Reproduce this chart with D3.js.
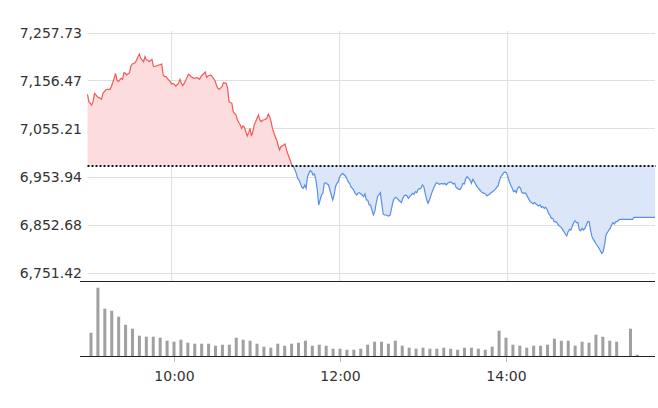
<!DOCTYPE html>
<html>
<head>
<meta charset="utf-8">
<script src="https://cdn.jsdelivr.net/npm/d3@7"></script>
<style>
  html, body { margin: 0; padding: 0; background: #fff; }
  svg { display: block; font-family: "DejaVu Sans", sans-serif; }
</style>
</head>
<body>
<svg id="chart" width="658" height="408"></svg>
<script>
// ---- data ----
const prevClose = 6978.2;
const yTickValues = [6751.42, 6852.68, 6953.94, 7055.21, 7156.47, 7257.73];
const xTickLabels = ["10:00", "12:00", "14:00"];

// minutes after 09:00
const priceMinutes = [
  0,1,3,4,5,6,7,9,10,11,12,13,14,16,17,19,20,21,22,24,25,26,27,28,30,31,32,34,35,36,37,38,40,41,42,43,44,46,47,48,49,51,53,54,55,56,57,59,60,
  61,62,63,65,66,67,68,69,70,72,73,74,76,78,79,80,81,82,84,85,86,88,89,91,92,93,94,96,97,99,100,101,103,104,105,106,107,109,110,111,112,113,114,115,116,117,118,119,121,122,
  123,124,125,126,128,129,130,131,132,134,135,136,137,138,140,141,142,146,147,149,150,151,153,154,155,156,157,158,159,160,161,162,163,164,165,166,167,168,169,170,171,172,173,175,176,177,178,179,180,
  181,182,184,185,186,187,188,190,191,192,193,194,196,197,198,199,200,201,202,203,204,205,206,207,209,210,211,212,213,215,216,217,218,219,220,221,222,224,225,226,227,228,229,231,232,233,234,235,236,238,239,240,
  241,242,243,244,246,247,248,249,250,251,253,254,255,256,257,259,260,261,262,263,265,266,267,268,269,270,271,272,273,274,275,276,278,279,280,
  281,282,284,285,286,287,288,290,291,292,293,294,295,296,297,298,299,300,301,302,303,304,305,306,307,308,309,310,311,312,313,315,316,317,318,319,321,322,323,324,325,326,327,328,329,330,
  331,332,333,334,335,336,338,339,340,341,342,343,344,345,346,347,348,349,350,351,352,353,354,355,356,357,358,359,360,
  361,362,363,364,365,366,367,368,369,370,371,372,373,374,375,376,377,378,379,380,389,390,405
];
const priceValues = [
  7128.4,7112.9,7105.8,7112.9,7130.5,7127.0,7123.4,7119.9,7117.8,7130.5,7134.0,7137.5,7138.9,7138.9,7144.5,7162.1,7172.6,7158.6,7155.1,7162.1,7160.0,7174.1,7172.6,7169.1,7174.1,7188.1,7192.3,7195.1,7200.8,7207.8,7213.4,7204.3,7197.2,7207.8,7200.8,7200.8,7197.2,7202.2,7188.1,7186.7,7188.1,7190.2,7192.3,7169.1,7165.6,7165.6,7162.1,7155.1,7150.1,
  7151.5,7149.4,7145.9,7151.5,7160.0,7151.5,7146.6,7151.5,7157.2,7170.5,7169.1,7165.6,7162.1,7163.5,7162.1,7160.0,7165.6,7169.1,7175.5,7164.2,7167.0,7169.1,7165.6,7157.2,7148.0,7141.0,7138.9,7144.5,7153.0,7151.5,7141.0,7112.9,7109.4,7091.8,7088.3,7084.7,7074.2,7063.6,7056.6,7061.5,7058.7,7049.6,7040.4,7047.5,7056.6,7040.4,7049.6,7063.6,7077.7,7084.7,
  7074.2,7070.7,7074.2,7074.2,7077.7,7086.8,7081.2,7070.7,7056.6,7039.0,7032.0,7021.5,7010.9,7017.9,7021.5,7023.6,7010.9,6978.0,6975.7,6961.7,6951.1,6947.6,6932.1,6930.0,6937.1,6930.0,6954.6,6961.7,6967.3,6965.2,6958.2,6960.3,6947.6,6926.5,6894.9,6905.4,6916.0,6919.5,6940.6,6942.0,6939.2,6937.1,6926.5,6905.4,6916.0,6933.5,6940.6,6944.1,6954.6,
  6958.2,6961.7,6956.1,6951.1,6944.1,6940.6,6933.5,6926.5,6919.5,6916.0,6919.5,6920.9,6916.0,6912.4,6918.1,6905.4,6905.4,6894.9,6894.9,6884.3,6873.8,6880.8,6898.4,6912.4,6920.9,6898.4,6875.9,6873.8,6873.8,6871.7,6873.8,6887.8,6901.9,6908.9,6911.0,6908.9,6905.4,6899.8,6908.9,6913.9,6916.0,6913.9,6908.9,6916.0,6919.5,6917.4,6923.0,6920.9,6927.9,6930.0,6937.1,6933.5,
  6919.5,6906.8,6898.4,6905.4,6923.0,6930.0,6937.1,6942.0,6940.6,6938.5,6940.6,6938.5,6940.6,6937.1,6940.6,6943.4,6942.0,6939.2,6940.6,6932.1,6927.9,6927.9,6933.5,6940.6,6939.2,6951.1,6954.6,6951.1,6947.6,6940.6,6949.0,6944.1,6933.5,6930.0,6926.5,
  6923.0,6920.9,6918.1,6913.9,6916.0,6918.1,6920.9,6925.1,6927.9,6932.1,6935.0,6946.2,6954.6,6958.2,6963.1,6964.5,6963.1,6954.6,6944.1,6937.1,6931.0,6923.0,6925.1,6920.9,6930.0,6933.5,6930.0,6920.9,6919.5,6920.9,6918.1,6906.8,6901.9,6899.8,6897.0,6899.8,6894.9,6892.8,6894.9,6889.9,6891.3,6887.8,6889.9,6885.7,6877.3,6873.8,
  6866.7,6866.7,6859.7,6859.7,6857.6,6852.7,6847.7,6843.5,6838.6,6833.7,6829.5,6838.6,6843.5,6842.1,6850.6,6857.6,6861.8,6857.6,6857.6,6842.1,6840.7,6845.6,6842.1,6845.6,6852.7,6859.7,6859.7,6842.1,6828.1,
  6822.4,6817.5,6812.6,6808.4,6803.5,6798.5,6792.9,6796.4,6810.5,6831.6,6836.5,6842.1,6845.6,6852.7,6857.6,6854.8,6859.7,6859.7,6863.2,6864.6,6864.6,6868.9,6868.9
];

// 5-minute volume bars, starting 09:00
const volumeTimes = [
  "09:00","09:05","09:10","09:15","09:20","09:25","09:30","09:35","09:40","09:45","09:50","09:55",
  "10:00","10:05","10:10","10:15","10:20","10:25","10:30","10:35","10:40","10:45","10:50","10:55",
  "11:00","11:05","11:10","11:15","11:20","11:25","11:30","11:35","11:40","11:45","11:50","11:55",
  "12:00","12:05","12:10","12:15","12:20","12:25","12:30","12:35","12:40","12:45","12:50","12:55",
  "13:00","13:05","13:10","13:15","13:20","13:25","13:30","13:35","13:40","13:45","13:50","13:55",
  "14:00","14:05","14:10","14:15","14:20","14:25","14:30","14:35","14:40","14:45","14:50","14:55",
  "15:00","15:05","15:10","15:15","15:20","15:25","15:30","15:35"
];
const volumeValues = [
  233,683,473,453,393,313,273,203,193,193,183,153,
  143,163,133,123,123,123,103,113,113,183,163,153,
  123,93,83,123,103,123,133,153,103,113,103,73,
  73,63,63,73,113,143,143,123,153,103,83,73,
  83,73,73,83,73,63,83,83,73,63,93,253,
  183,113,103,83,103,103,113,173,153,153,103,143,
  133,213,193,153,143,0,273,13
];

// ---- drawing ----
const svg = d3.select("#chart");
const day = "2025-01-01T";
const parseT = d3.timeParse("%Y-%m-%dT%H:%M");
const t = s => parseT(day + s);
const base = t("09:00");
const minToDate = m => new Date(base.getTime() + m * 60000);

const x = d3.scaleTime().domain([t("09:00"), t("15:45")]).range([87.5, 655]);
const y = d3.scaleLinear().domain([yTickValues[0], yTickValues[yTickValues.length - 1]]).range([273, 33]);

const xv = d3.scaleTime().domain([t("09:00"), t("15:45")]).range([91, 91 + 83 * 6.75]);
const yv = d3.scaleLinear().domain([0, 750]).range([356, 281]);

const snap = v => Math.floor(v) + 0.5;

// horizontal gridlines + y labels
const gy = svg.append("g");
yTickValues.forEach(v => {
  const yy = snap(y(v));
  gy.append("line").attr("x1", 87.5).attr("x2", 655).attr("y1", yy).attr("y2", yy)
    .attr("stroke", "#e0e0e0").attr("stroke-width", 1);
  gy.append("text").attr("x", 82).attr("y", y(v) + 5.2)
    .attr("text-anchor", "end").attr("font-size", 14).attr("fill", "#333")
    .text(d3.format(",.2f")(v));
});

// vertical gridlines (price panel)
xTickLabels.forEach(s => {
  const xx = snap(x(t(s)));
  svg.append("line").attr("x1", xx).attr("x2", xx).attr("y1", 31).attr("y2", 281)
    .attr("stroke", "#e0e0e0").attr("stroke-width", 1);
});

// price series
const data = priceMinutes.map((m, i) => ({ date: minToDate(m), value: priceValues[i] }));
const yBase = y(prevClose);

const defs = svg.append("defs");
defs.append("clipPath").attr("id", "clipUp").append("rect")
  .attr("x", 0).attr("y", 0).attr("width", 658).attr("height", yBase);
defs.append("clipPath").attr("id", "clipDown").append("rect")
  .attr("x", 0).attr("y", yBase).attr("width", 658).attr("height", 408 - yBase);

const area = d3.area().x(d => x(d.date)).y0(yBase).y1(d => y(d.value));
const line = d3.line().x(d => x(d.date)).y(d => y(d.value));

svg.append("path").datum(data).attr("d", area).attr("fill", "#fddcdd").attr("clip-path", "url(#clipUp)");
svg.append("path").datum(data).attr("d", area).attr("fill", "#dbe6f8").attr("clip-path", "url(#clipDown)");
svg.append("path").datum(data).attr("d", line).attr("fill", "none").attr("stroke", "#f25a5a")
  .attr("stroke-width", 1.2).attr("clip-path", "url(#clipUp)");
svg.append("path").datum(data).attr("d", line).attr("fill", "none").attr("stroke", "#5b8fe3")
  .attr("stroke-width", 1.2).attr("clip-path", "url(#clipDown)");

// previous close dotted line
svg.append("line").attr("x1", 87.5).attr("x2", 656)
  .attr("y1", Math.round(yBase)).attr("y2", Math.round(yBase))
  .attr("stroke", "#111").attr("stroke-width", 2).attr("stroke-dasharray", "2,2");

// volume panel
const vol = volumeTimes.map((s, i) => ({ date: t(s), value: volumeValues[i] }));
svg.append("g").selectAll("rect").data(vol.filter(d => d.value > 0)).join("rect")
  .attr("x", d => xv(d.date) - 1.5)
  .attr("width", 3)
  .attr("y", d => yv(d.value))
  .attr("height", d => 356 - yv(d.value))
  .attr("fill", "#a0a0a0");

svg.append("line").attr("x1", 80).attr("x2", 655).attr("y1", 281.5).attr("y2", 281.5)
  .attr("stroke", "#222").attr("stroke-width", 1);
svg.append("line").attr("x1", 80).attr("x2", 655).attr("y1", 356.5).attr("y2", 356.5)
  .attr("stroke", "#222").attr("stroke-width", 1);

// volume x-axis
const xAxis = d3.axisBottom(xv)
  .tickValues(xTickLabels.map(t))
  .tickFormat(d3.timeFormat("%H:%M"))
  .tickSize(5).tickPadding(9);
const ga = svg.append("g").attr("transform", "translate(0,357)").call(xAxis);
ga.select(".domain").remove();
ga.selectAll(".tick line").attr("stroke", "#bbb");
ga.selectAll(".tick text").attr("font-size", 14).attr("fill", "#333")
  .attr("font-family", "DejaVu Sans, sans-serif");
</script>
</body>
</html>
